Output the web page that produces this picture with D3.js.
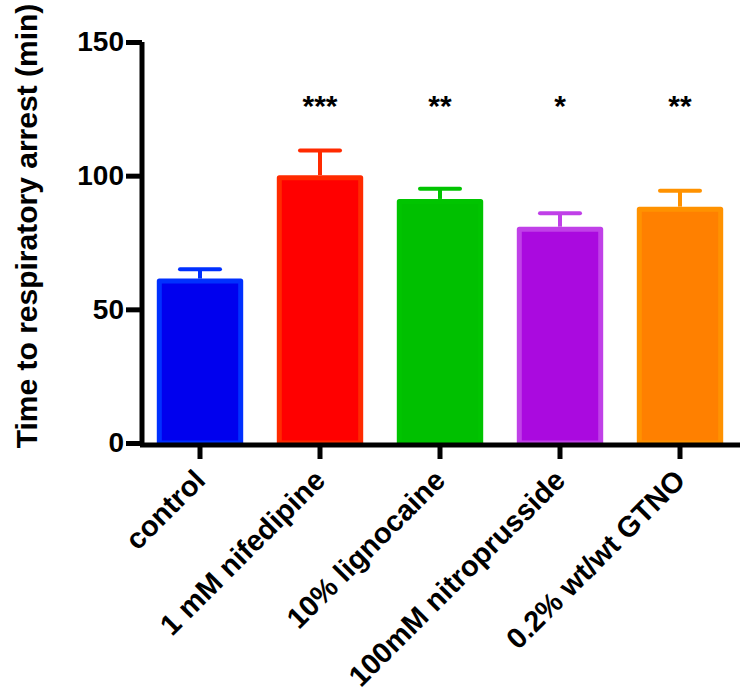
<!DOCTYPE html>
<html>
<head>
<meta charset="utf-8">
<script src="https://cdn.jsdelivr.net/npm/d3@7"></script>
<style>
  body { margin: 0; background: #fff; }
  text { font-family: "Liberation Sans", Arial, sans-serif; font-weight: bold; }
</style>
</head>
<body>
<script>
// chart data
const groups = ["control", "1 mM nifedipine", "10% lignocaine", "100mM nitroprusside", "0.2% wt/wt GTNO"];
const means = [61.5, 100.2, 91.3, 80.9, 88.4];
const errors = [3.5, 9.2, 3.8, 5.0, 6.0];
const stars = ["", "***", "**", "*", "**"];
const fills = ["#0000ee", "#ff0000", "#00c000", "#aa0adf", "#ff8000"];
const strokes = ["#0030ff", "#ff2a00", "#00c400", "#c040e8", "#ff9200"];
const yTicks = [0, 50, 100, 150];

const width = 745, height = 695;
const svg = d3.select("body").append("svg")
    .attr("width", width)
    .attr("height", height);

const x = d3.scaleBand()
    .domain(groups)
    .range([140, 740])
    .paddingInner(0.28)
    .paddingOuter(0.14);

const y = d3.scaleLinear()
    .domain([0, 150])
    .range([443, 42]);

// bars
const bw = x.bandwidth();
svg.selectAll(".bar")
    .data(groups)
    .enter().append("rect")
    .attr("x", d => x(d) + 2.5)
    .attr("y", (d, i) => y(means[i]) + 2.5)
    .attr("width", bw - 5)
    .attr("height", (d, i) => y(0) - y(means[i]) - 2.5)
    .attr("fill", (d, i) => fills[i])
    .attr("stroke", (d, i) => strokes[i])
    .attr("stroke-width", 5)
    .attr("stroke-linejoin", "round");

// error bars (upper only)
groups.forEach((g, i) => {
    const cx = x(g) + bw / 2;
    svg.append("line")
        .attr("x1", cx).attr("x2", cx)
        .attr("y1", y(means[i])).attr("y2", y(means[i] + errors[i]))
        .attr("stroke", strokes[i]).attr("stroke-width", 4);
    svg.append("line")
        .attr("x1", cx - 20).attr("x2", cx + 20)
        .attr("y1", y(means[i] + errors[i])).attr("y2", y(means[i] + errors[i]))
        .attr("stroke", strokes[i]).attr("stroke-width", 4)
        .attr("stroke-linecap", "round");
    if (stars[i]) {
        svg.append("text")
            .attr("x", cx).attr("y", 116)
            .attr("text-anchor", "middle")
            .style("font-size", "30px")
            .text(stars[i]);
    }
});

// y axis
const yAxis = svg.append("g")
    .attr("transform", "translate(142,0)")
    .call(d3.axisLeft(y).tickValues(yTicks).tickSize(16).tickPadding(2));
yAxis.select(".domain").attr("stroke-width", 5).attr("d", `M0,${y(150)}V${y(0) + 2.5}`);
yAxis.selectAll(".tick line").attr("stroke-width", 5);
yAxis.selectAll("text").style("font-size", "28px").attr("fill", "#000");

// x axis
const xAxis = svg.append("g")
    .attr("transform", "translate(0,445)")
    .call(d3.axisBottom(x).tickSize(14).tickSizeOuter(0));
xAxis.select(".domain").attr("stroke-width", 5).attr("d", "M140,0H740");
xAxis.selectAll(".tick line").attr("stroke-width", 5);
xAxis.selectAll("text")
    .style("font-size", "29px")
    .attr("fill", "#000")
    .attr("text-anchor", "end")
    .attr("dy", 0)
    .attr("transform", "translate(7,37) rotate(-45)")
    .attr("x", 0).attr("y", 0);

// y label
svg.append("text")
    .attr("transform", "translate(37,226) rotate(-90)")
    .attr("text-anchor", "middle")
    .style("font-size", "30px")
    .text("Time to respiratory arrest (min)");
</script>
</body>
</html>
